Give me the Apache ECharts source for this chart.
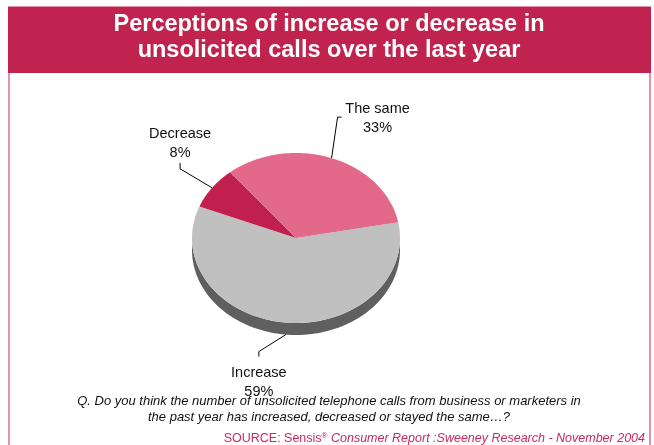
<!DOCTYPE html>
<html>
<head>
<meta charset="utf-8">
<script src="https://cdn.jsdelivr.net/npm/echarts@6/dist/echarts.min.js"></script>
<style>
  html, body { margin: 0; padding: 0; background: #fff; }
  #chart { width: 654px; height: 445px; }
</style>
</head>
<body>
<div id="chart"></div>
<script>
// Survey answers, in clockwise drawing order
const categories = ['Increase', 'Decrease', 'The same'];
const shares = [59, 8, 33];
const sliceColors = ['#C0C0C0', '#C1204F', '#E3698B'];

const titleLines = [
  'Perceptions of increase or decrease in',
  'unsolicited calls over the last year'
];
const questionLines = [
  'Q. Do you think the number of unsolicited telephone calls from business or marketers in',
  'the past year has increased, decreased or stayed the same\u2026?'
];

// Tilted (elliptical) pie geometry
const PIE = { cx: 296, cy: 238, rx: 104, ry: 85, depth: 12, startAngle: 10.6, sideColor: '#5F5F5F' };

// Leader line elbows and text placement relative to each slice's edge anchor
const LABEL_LAYOUT = [
  { elbow: [-27, 17], end: [0, 5],  text: [0, 7],  vAlign: 'top' },
  { elbow: [-32, -19], end: [0, -6], text: [0, 0], vAlign: 'bottom' },
  { elbow: [6, -41],  end: [4, 0],  text: [36, 1.5], vAlign: 'middle' }
];

const total = shares.reduce((a, b) => a + b, 0);
const sliceAngles = [];
{
  let a = PIE.startAngle;
  shares.forEach(v => {
    const sweep = v / total * 360;
    sliceAngles.push([a, a - sweep]);   // clockwise
    a -= sweep;
  });
}

function ellipsePoint(deg, dy) {
  const r = deg * Math.PI / 180;
  return [PIE.cx + PIE.rx * Math.cos(r), PIE.cy - PIE.ry * Math.sin(r) + (dy || 0)];
}
function arc(a0, a1, dy) {
  const n = Math.max(2, Math.ceil(Math.abs(a0 - a1) / 1.5));
  const pts = [];
  for (let i = 0; i <= n; i++) pts.push(ellipsePoint(a0 + (a1 - a0) * i / n, dy));
  return pts;
}

function renderSlice(params, api) {
  const i = params.dataIndex;
  const [a0, a1] = sliceAngles[i];
  const children = [];

  // visible rim: the part of the slice facing the viewer (lower half of the ellipse)
  for (let k = -1; k <= 1; k++) {
    const hi = Math.min(a0, 360 * k);
    const lo = Math.max(a1, -180 + 360 * k);
    if (lo < hi) {
      const top = arc(hi, lo, 0);
      const bottom = arc(lo, hi, PIE.depth);
      children.push({
        type: 'polygon', z2: 1,
        shape: { points: top.concat(bottom) },
        style: { fill: PIE.sideColor }
      });
    }
  }

  // top face
  children.push({
    type: 'polygon', z2: 2,
    shape: { points: [[PIE.cx, PIE.cy]].concat(arc(a0, a1, 0)) },
    style: { fill: api.visual('color') }
  });

  // label with leader line
  const mid = (a0 + a1) / 2;
  const front = Math.sin(mid * Math.PI / 180) < 0;
  const anchor = ellipsePoint(mid, front ? PIE.depth : 0);
  const L = LABEL_LAYOUT[i];
  const elbow = [anchor[0] + L.elbow[0], anchor[1] + L.elbow[1]];
  const end = [elbow[0] + L.end[0], elbow[1] + L.end[1]];
  children.push({
    type: 'polyline', z2: 3,
    shape: { points: [anchor, elbow, end] },
    style: { stroke: '#000', lineWidth: 1, fill: null }
  });
  children.push({
    type: 'text', z2: 3,
    x: end[0] + L.text[0], y: end[1] + L.text[1],
    style: {
      text: categories[i] + '\n' + api.value(0) + '%',
      fill: '#111',
      font: '14.5px "Liberation Sans", Arial, sans-serif',
      lineHeight: 19,
      align: 'center',
      verticalAlign: L.vAlign
    }
  });

  return { type: 'group', children };
}

const chart = echarts.init(document.getElementById('chart'), null, { renderer: 'canvas', width: 654, height: 445 });

chart.setOption({
  animation: false,
  backgroundColor: '#fff',
  graphic: [
    {
      type: 'rect', z: -1,
      shape: { x: 9, y: 7, width: 641, height: 460 },
      style: { fill: '#fff', stroke: '#D9708F', lineWidth: 1.5 }
    },
    {
      type: 'rect', z: 0,
      shape: { x: 8, y: 7, width: 643, height: 66 },
      style: { fill: '#C1234F' }
    },
    {
      type: 'text', z: 1,
      x: 329, y: 37.5,
      style: {
        text: titleLines.join('\n'),
        fill: '#fff',
        font: 'bold 23.5px "Liberation Sans", Arial, sans-serif',
        lineHeight: 26.5,
        align: 'center',
        verticalAlign: 'middle'
      }
    },
    {
      type: 'text', z: 1,
      x: 329, y: 409.5,
      style: {
        text: questionLines.join('\n'),
        fill: '#111',
        font: 'italic 13px "Liberation Sans", Arial, sans-serif',
        lineHeight: 16.5,
        align: 'center',
        verticalAlign: 'middle'
      }
    },
    {
      type: 'text', z: 1,
      x: 645, y: 439,
      style: {
        text: '{a|SOURCE: Sensis}{sup|\u00AE}{b| Consumer Report :Sweeney Research - November 2004}',
        align: 'right',
        verticalAlign: 'middle',
        rich: {
          a: { fill: '#C92A5A', font: '12.5px "Liberation Sans", Arial, sans-serif' },
          sup: { fill: '#C92A5A', font: '8px "Liberation Sans", Arial, sans-serif', verticalAlign: 'top', padding: [0, 0, 6, 0] },
          b: { fill: '#C92A5A', font: 'italic 12.5px "Liberation Sans", Arial, sans-serif' }
        }
      }
    }
  ],
  series: [{
    type: 'custom',
    coordinateSystem: 'none',
    renderItem: renderSlice,
    data: shares.map((v, i) => ({ name: categories[i], value: [v], itemStyle: { color: sliceColors[i] } }))
  }]
});
</script>
</body>
</html>
